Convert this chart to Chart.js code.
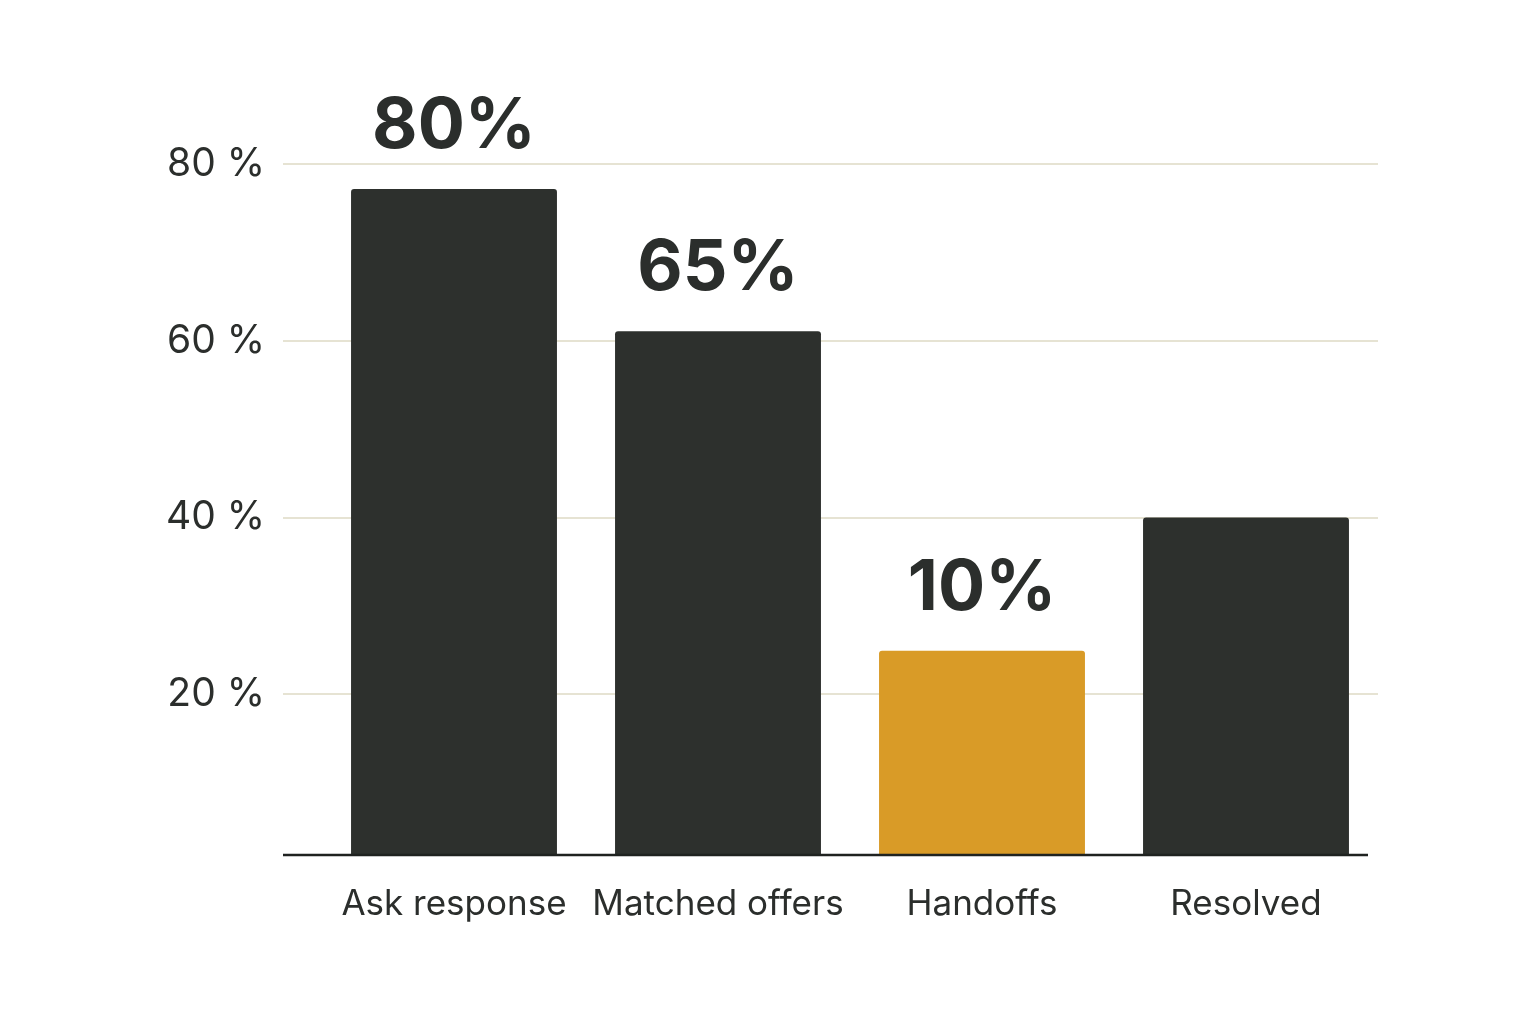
<!DOCTYPE html>
<html>
<head>
<meta charset="utf-8">
<script src="https://cdn.jsdelivr.net/npm/chart.js@4/dist/chart.umd.min.js"></script>
<style>
  html, body { margin: 0; padding: 0; background: #fff; }
  #wrap { width: 1536px; height: 1024px; }
</style>
</head>
<body>
<div id="wrap"><canvas id="chart" width="1536" height="1024"></canvas></div>
<script>
const categories = ["Ask response", "Matched offers", "Handoffs", "Resolved"];
const values = [77.2, 61.1, 24.9, 40];
const barLabels = ["80%", "65%", "10%", ""];
const barColors = ["#2d302d", "#2d302d", "#d99b27", "#2d302d"];
const yTicks = [20, 40, 60, 80];

const ink = "#2b2e2c";
const gridTick = 39;

// big value labels above the bars
const valueLabels = {
  id: "valueLabels",
  afterDatasetsDraw(chart) {
    const ctx = chart.ctx;
    const meta = chart.getDatasetMeta(0);
    ctx.save();
    ctx.font = "700 70px Inter";
    ctx.fillStyle = ink;
    ctx.textAlign = "center";
    ctx.textBaseline = "alphabetic";
    meta.data.forEach((bar, i) => {
      if (barLabels[i]) ctx.fillText(barLabels[i], bar.x, bar.y - 41);
    });
    ctx.restore();
  }
};

// baseline reaching under the tick labels like the grid lines
const baseline = {
  id: "baseline",
  afterDatasetsDraw(chart) {
    const { ctx, chartArea } = chart;
    const y = chart.scales.y.getPixelForValue(chart.scales.y.min);
    ctx.save();
    ctx.strokeStyle = "#1f2220";
    ctx.lineWidth = 2.5;
    ctx.beginPath();
    ctx.moveTo(chartArea.left - gridTick, y);
    ctx.lineTo(chartArea.right - 10, y);
    ctx.stroke();
    ctx.restore();
  }
};

new Chart(document.getElementById("chart").getContext("2d"), {
  type: "bar",
  data: {
    labels: categories,
    datasets: [{
      data: values,
      backgroundColor: barColors,
      borderRadius: 3,
      borderSkipped: "bottom",
      barPercentage: 0.78,
      categoryPercentage: 1
    }]
  },
  options: {
    responsive: false,
    animation: false,
    layout: { padding: { top: 76, right: 158, bottom: 49, left: 0 } },
    plugins: { legend: { display: false }, tooltip: { enabled: false } },
    scales: {
      x: {
        grid: { display: false, drawTicks: false },
        border: { display: false },
        ticks: {
          color: ink,
          font: { family: "Inter", size: 35 },
          padding: 28,
          maxRotation: 0,
          minRotation: 0,
          autoSkip: false
        },
        afterFit(scale) { scale.height = 120; }
      },
      y: {
        min: 1.78,
        max: 90,
        afterBuildTicks(scale) { scale.ticks = yTicks.map(v => ({ value: v })); },
        grid: { color: "#e6e3d3", lineWidth: 2, tickLength: gridTick },
        border: { display: false },
        ticks: {
          color: ink,
          font: { family: "Inter", size: 39 },
          padding: 18,
          callback: v => v + " %"
        },
        afterFit(scale) { scale.width = 322; }
      }
    }
  },
  plugins: [valueLabels, baseline]
});
</script>
</body>
</html>
